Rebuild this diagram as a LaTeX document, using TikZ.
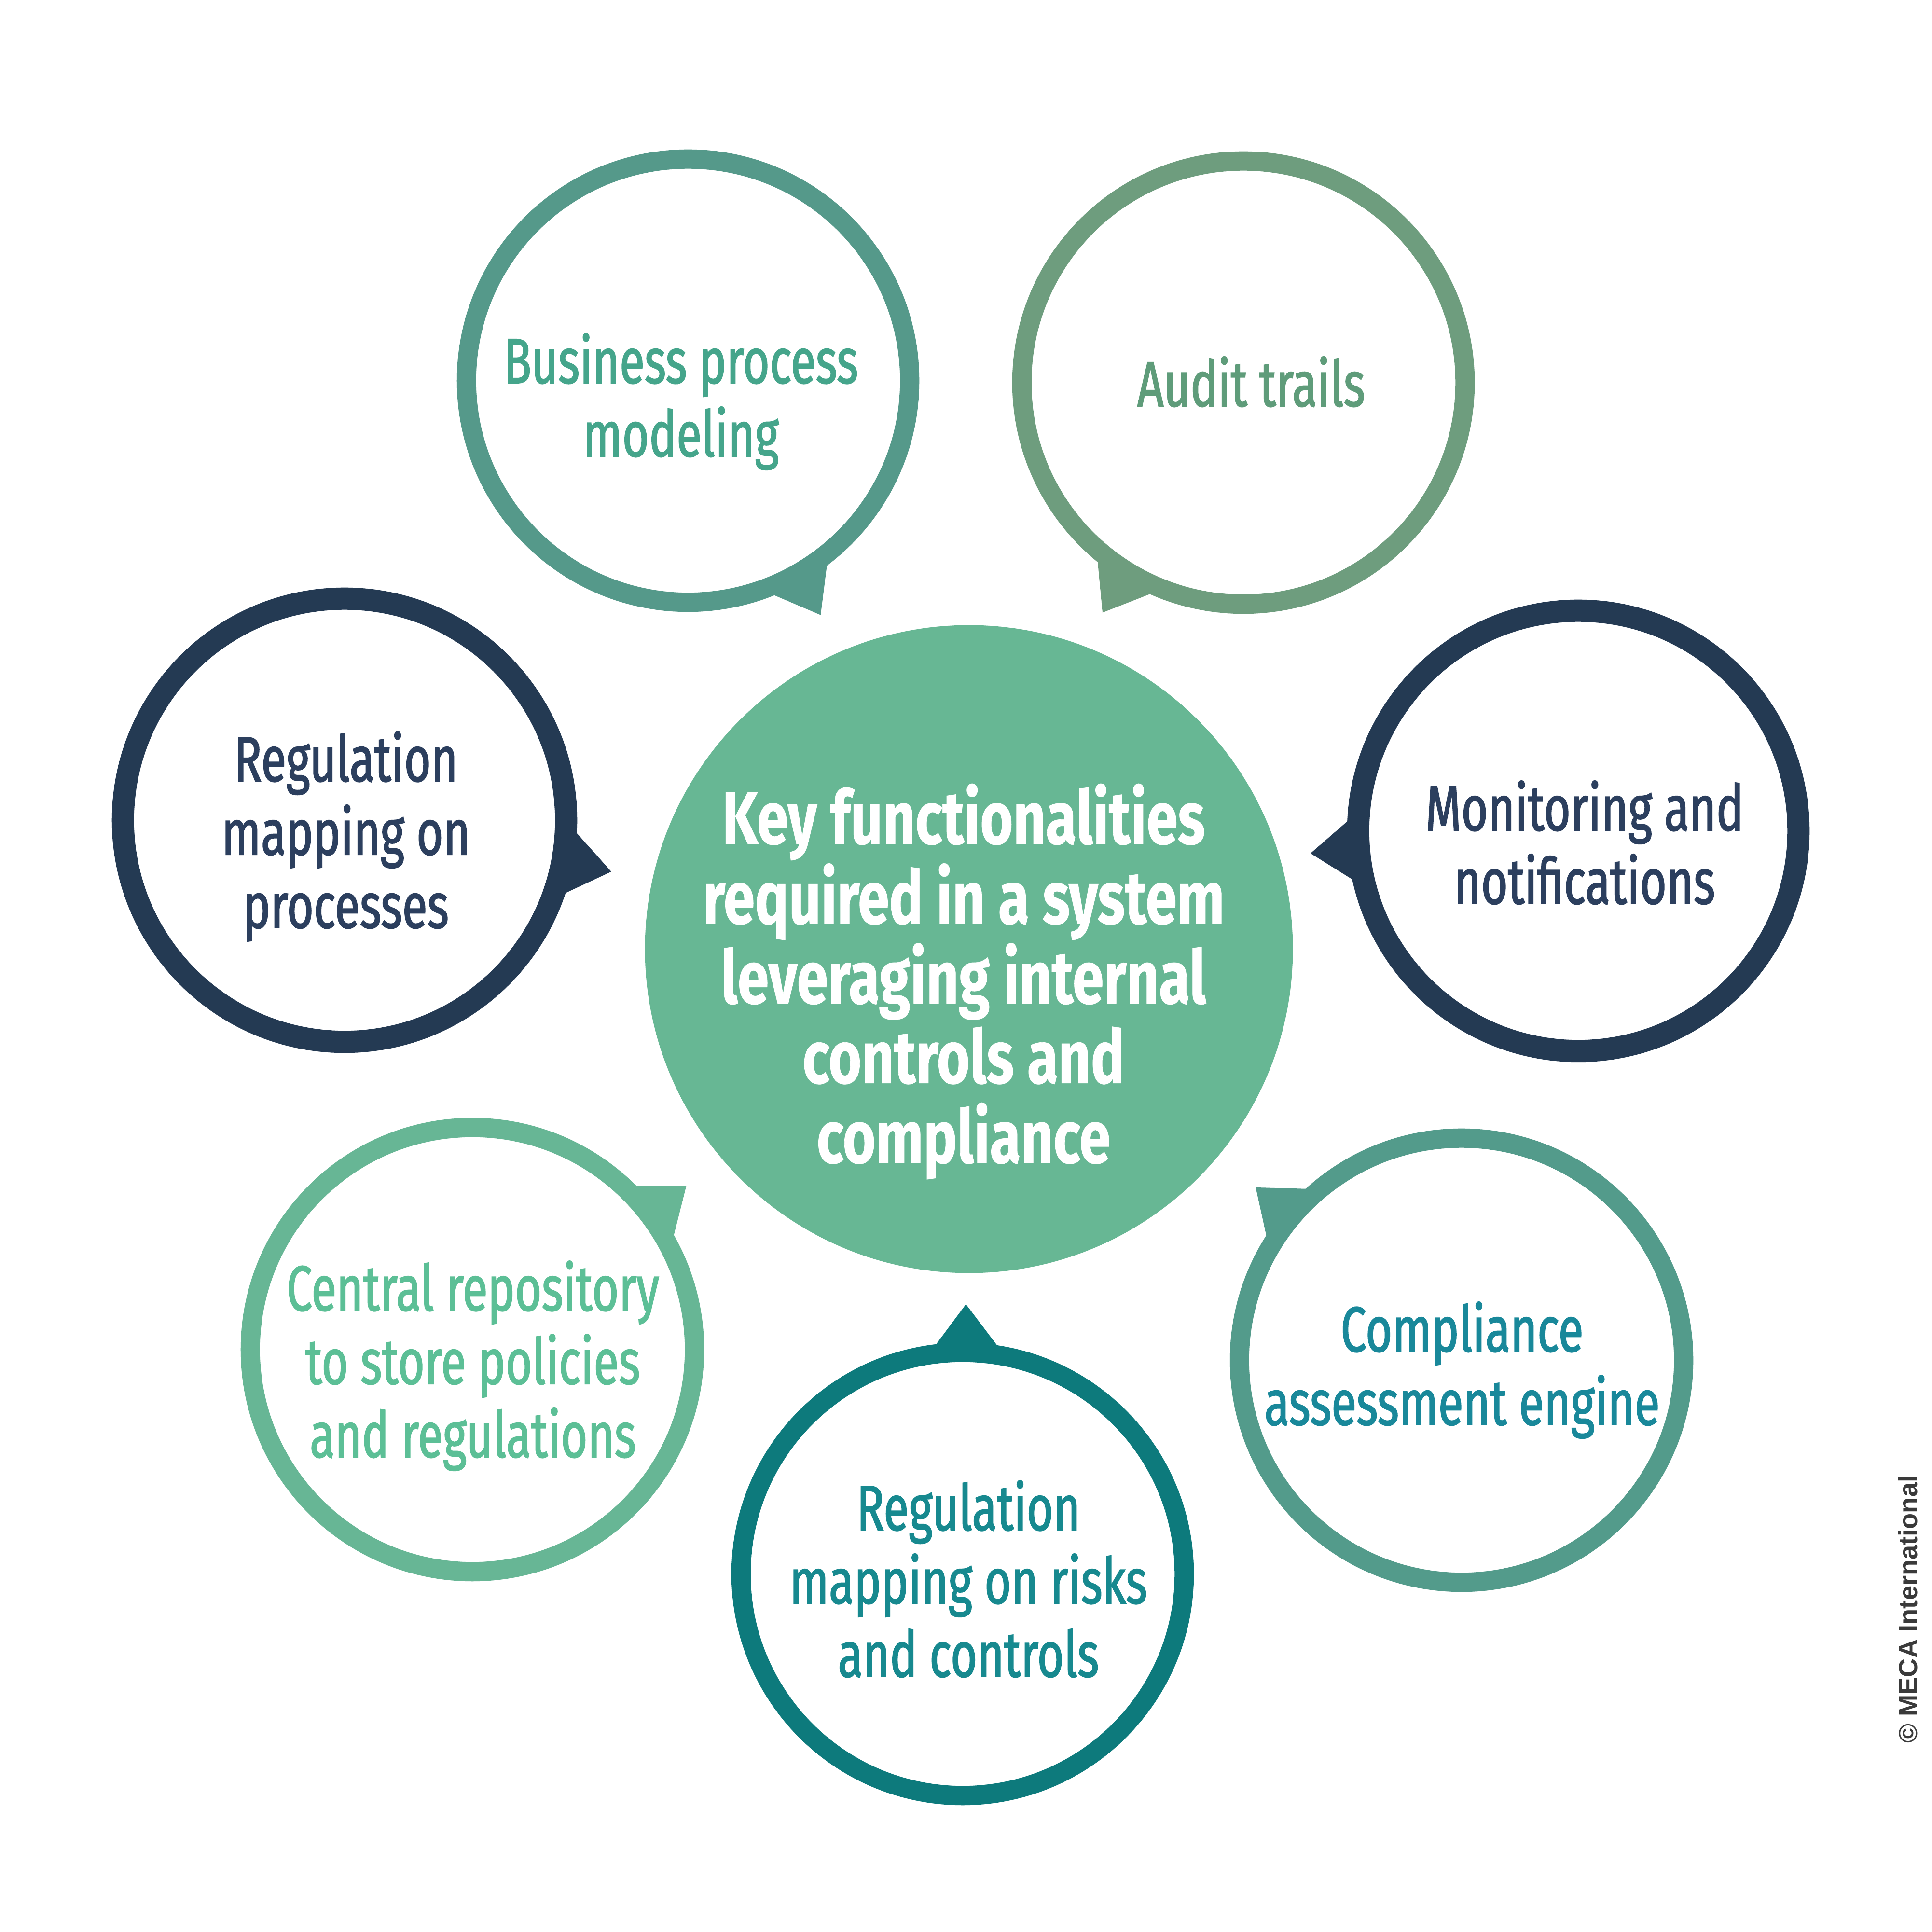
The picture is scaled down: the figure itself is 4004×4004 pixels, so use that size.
\documentclass[tikz,border=0pt]{standalone}
\usepackage{fontspec}
\usetikzlibrary{calc}
\newfontfamily\osw[FakeStretch=0.72,FakeBold=1.5]{Fira Sans}
\newfontfamily\oswb[FakeStretch=0.76,FakeBold=0.5]{Fira Sans}
\newfontfamily\copyfont{Liberation Sans}
\definecolor{cHub}{HTML}{67B794}
\definecolor{cBPM}{HTML}{55998A}
\definecolor{tBPM}{HTML}{45A58B}
\definecolor{cAud}{HTML}{6E9D7E}
\definecolor{tAud}{HTML}{5F9C7A}
\definecolor{cNavy}{HTML}{243A53}
\definecolor{tNavy}{HTML}{2C3F5E}
\definecolor{cRepo}{HTML}{67B695}
\definecolor{tRepo}{HTML}{5CBF96}
\definecolor{cEng}{HTML}{539B8B}
\definecolor{tEng}{HTML}{19889A}
\definecolor{cRisk}{HTML}{0D7A7C}
\definecolor{tRisk}{HTML}{17898F}
\definecolor{cCopy}{HTML}{3A3A3A}
\newcommand\lines[1]{\parbox[b]{12cm}{\centering #1}}
\tikzset{
  bubble/.style n args={3}{circle, inner sep=0pt, draw=#1, line width=#2, minimum size=#3, fill=white},
  hubnode/.style={circle, inner sep=0pt, fill=cHub, minimum size=13.42cm},
  lbl/.style={inner sep=0pt, anchor=base, font=\osw\fontsize{37.6}{43.2}\selectfont},
  hublbl/.style={inner sep=0pt, anchor=base, text=white, font=\oswb\bfseries\fontsize{43.8}{47}\selectfont},
}
\begin{document}
\begin{tikzpicture}[x=0.01cm,y=0.01cm]
\useasboundingbox (0,0) rectangle (4004,4004);
\fill[white] (0,0) rectangle (4004,4004);

% central hub
\node[hubnode] (hub) at (2008,2037) {};

% bubbles
\node[bubble={cBPM}{0.4cm}{9.18cm}] (bpm) at (1426,3215) {};
\node[bubble={cAud}{0.4cm}{9.18cm}] (aud) at (2577,3211) {};
\node[bubble={cNavy}{0.46cm}{9.18cm}] (regproc) at (714,2304) {};
\node[bubble={cNavy}{0.46cm}{9.12cm}] (mon) at (3271,2282) {};
\node[bubble={cRepo}{0.4cm}{9.2cm}] (repo) at (979,1207) {};
\node[bubble={cEng}{0.4cm}{9.2cm}] (eng) at (3029,1185) {};
\node[bubble={cRisk}{0.4cm}{9.18cm}] (risk) at (1995,742) {};

% tails
\fill[cBPM] ($(bpm)+(289.3:459)$) -- ($(bpm)+(299.5:558)$) -- ($(bpm)+(309.4:459)$) -- cycle;
\fill[cAud] ($(aud)+(228.4:459)$) -- ($(aud)+(238.5:559)$) -- ($(aud)+(248.7:459)$) -- cycle;
\fill[cNavy] ($(regproc)+(-0.2:459)$) -- ($(regproc)+(-10.9:563)$) -- ($(regproc)+(-21:459)$) -- cycle;
\fill[cNavy] ($(mon)+(174.8:456)$) -- ($(mon)+(184.8:557)$) -- ($(mon)+(195:456)$) -- cycle;
\fill[cRepo] ($(repo)+(47.5:460)$) -- ($(repo)+(37.4:558)$) -- ($(repo)+(26.9:460)$) -- cycle;
\fill[cEng] ($(eng)+(129.6:460)$) -- ($(eng)+(140:557)$) -- ($(eng)+(150:460)$) -- cycle;
\fill[cRisk] ($(risk)+(99:459)$) -- ($(risk)+(89.3:559)$) -- ($(risk)+(78.8:459)$) -- cycle;

% labels
\node[hublbl] (hubtxt) at (1997,1594) {\lines{Key functionalities\\required in a system\\leveraging internal\\controls and\\compliance}};
\node[lbl, text=tBPM] (bpmtxt) at (1411,3058) {\lines{Business process\\modeling}};
\node[lbl, text=tAud] (audtxt) at (2593,3162) {Audit trails};
\node[lbl, text=tNavy] (regproctxt) at (717,2081) {\lines{Regulation\\mapping on\\processes}};
\node[lbl, text=tNavy] (montxt) at (3284,2131) {\lines{Monitoring and\\notifications}};
\node[lbl, text=tRepo] (repotxt) at (980,984) {\lines{Central repository\\to store policies\\and regulations}};
\node[lbl, text=tEng] (engtxt) at (3030,1051) {\lines{Compliance\\assessment engine}};
\node[lbl, text=tRisk] (risktxt) at (2007,529) {\lines{Regulation\\mapping on risks\\and controls}};

% copyright
\node[rotate=90, inner sep=0pt, text=cCopy, font=\copyfont\bfseries\fontsize{15.4}{15.4}\selectfont] (copy) at (3954,669) {© MECA International};
\end{tikzpicture}
\end{document}
